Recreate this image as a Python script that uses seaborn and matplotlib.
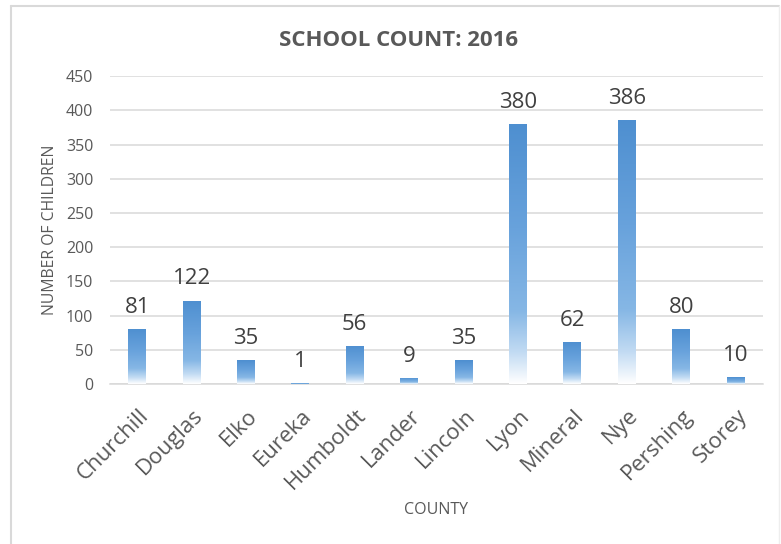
import numpy as np
import pandas as pd
import matplotlib
matplotlib.use('Agg')
import matplotlib.pyplot as plt
import matplotlib.transforms as mtransforms
import seaborn as sns
from matplotlib.colors import LinearSegmentedColormap
from matplotlib.lines import Line2D

counties = ['Churchill', 'Douglas', 'Elko', 'Eureka', 'Humboldt', 'Lander',
            'Lincoln', 'Lyon', 'Mineral', 'Nye', 'Pershing', 'Storey']
children = [81, 122, 35, 1, 56, 9, 35, 380, 62, 386, 80, 10]
yticks = [0, 50, 100, 150, 200, 250, 300, 350, 400, 450]

df = pd.DataFrame({'county': counties, 'children': children})

sns.set_theme(style='white')
plt.rcParams['font.family'] = ['Open Sans', 'DejaVu Sans']
grey = '#595959'

fig = plt.figure(figsize=(7.81, 5.44), dpi=100)
ax = fig.add_axes([0.1408, 0.294, 0.836, 0.566])

sns.barplot(data=df, x='county', y='children', ax=ax, width=0.33,
            color='#5b9bd5', saturation=1, zorder=3)

# excel style gradient fill: blue on top, white at the base
cmap = LinearSegmentedColormap.from_list(
    'fade', [(0.0, '#ffffff'), (0.12, '#c2dbf3'), (0.28, '#86b7e5'),
             (0.6, '#68a2dc'), (1.0, '#4e8fd0')])
grad = np.linspace(0, 1, 256).reshape(-1, 1)
for bar in ax.patches:
    x0, y0 = bar.get_x(), bar.get_y()
    w, h = bar.get_width(), bar.get_height()
    bar.set_facecolor('none')
    bar.set_edgecolor('none')
    im = ax.imshow(grad, cmap=cmap, origin='lower', aspect='auto',
                   extent=[x0, x0 + w, y0, y0 + h], zorder=3)
    im.set_clip_path(bar)

for i, v in enumerate(children):
    ax.annotate(str(v), (i, v), xytext=(0, 8), textcoords='offset points',
                ha='center', va='bottom', fontsize=16, color='#404040')

ax.set_xlim(-0.5, len(counties) - 0.5)
ax.set_ylim(0, 450)
ax.set_yticks(yticks)
ax.yaxis.grid(True, color='#d9d9d9', linewidth=1.1, zorder=0)
ax.set_axisbelow(True)
sns.despine(ax=ax, left=True, top=True, right=True, bottom=False)
ax.spines['bottom'].set_color('#d9d9d9')
ax.spines['bottom'].set_linewidth(1.1)
ax.tick_params(axis='y', labelsize=11.5, labelcolor=grey, length=0, pad=12)
ax.tick_params(axis='x', labelsize=16, labelcolor=grey, length=0, pad=15)
shift = mtransforms.ScaledTranslation(1 / 100, 0, fig.dpi_scale_trans)
for lab in ax.get_xticklabels():
    lab.set_rotation(45)
    lab.set_ha('right')
    lab.set_rotation_mode('anchor')
    lab.set_transform(lab.get_transform() + shift)

ax.set_xlabel('COUNTY', fontsize=11.5, color=grey, labelpad=6)
ax.set_ylabel('NUMBER OF CHILDREN', fontsize=11.3, color=grey, labelpad=6)

fig.text(0.51, 0.926, 'SCHOOL COUNT: 2016', ha='center', va='center',
         fontsize=16, fontweight='bold', color=grey)

# chart frame
fig.add_artist(Line2D([0.014, 0.014], [0, 0.989], color='#d9d9d9', lw=1.5,
                      transform=fig.transFigure))
fig.add_artist(Line2D([0.014, 0.998], [0.989, 0.989], color='#d9d9d9', lw=1.5,
                      transform=fig.transFigure))
fig.add_artist(Line2D([0.998, 0.998], [0, 0.989], color='#eeeeee', lw=1,
                      transform=fig.transFigure))

fig.savefig('out.png', dpi=100)
